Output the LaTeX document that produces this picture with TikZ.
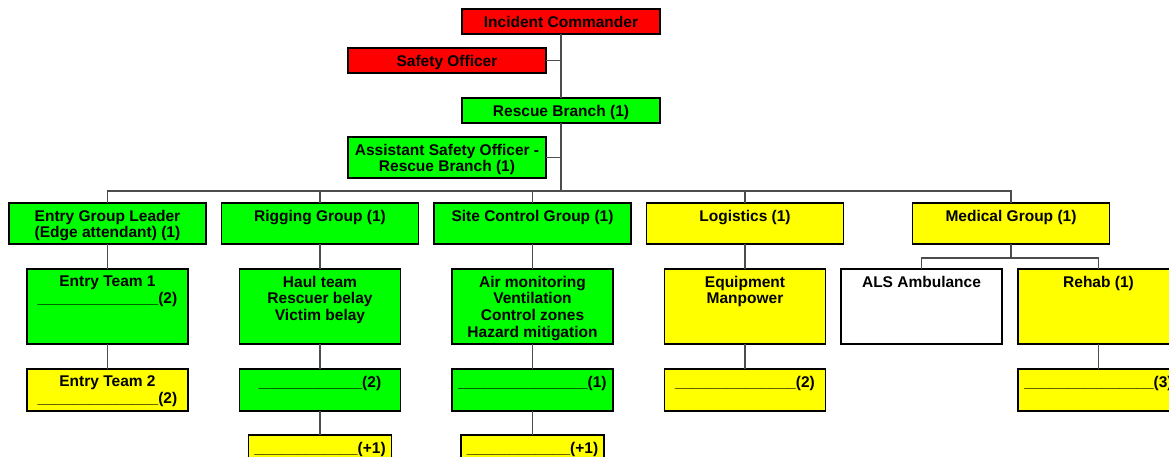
\documentclass[tikz,border=0pt]{standalone}
\usepackage{fontspec}
\setmainfont{Liberation Sans}
\usepackage{tikz}
\usetikzlibrary{positioning}
\definecolor{icsred}{RGB}{255,0,0}
\definecolor{icsgreen}{RGB}{0,255,0}
\definecolor{icsyellow}{RGB}{255,255,0}
\newcommand{\blanks}[1]{\foreach \k in {1,...,#1}{\_}}

\begin{document}
\begin{tikzpicture}[x=1pt,y=-1pt,
  box/.style={draw=black, line width=1.2pt, inner sep=0pt, outer sep=0pt},
  head/.style={box, minimum width=198pt, minimum height=25pt},
  grp/.style={box, minimum width=197pt, minimum height=41pt},
  task/.style={box, minimum width=161pt, minimum height=75pt},
  crew/.style={box, minimum width=161pt, minimum height=42pt},
  spare/.style={box, minimum width=143pt, minimum height=42pt},
  lbl/.style={anchor=north, align=center, inner sep=0pt, outer sep=0pt, yshift=-7pt,
    font=\fontsize{15.5}{16.7}\selectfont\bfseries},
  link/.style={draw=black!70, line width=1.3pt}]
  \clip (0,0) rectangle (1169,457);

  \node[head, fill=icsred, label={[lbl]north:{Incident Commander}}] (ic) at (561,21.5) {};
  \node[head, fill=icsred, label={[lbl]north:{Safety Officer}}] (so) at (447,60.5) {};
  \node[head, fill=icsgreen, label={[lbl]north:{Rescue Branch (1)}}] (rb) at (561,110.5) {};
  \node[head, minimum height=41pt, fill=icsgreen,
    label={[lbl]north:{Assistant Safety Officer -\\Rescue Branch (1)}}] (aso) at (447,157.5) {};
  \coordinate (bus) at (561,191);

  \node[grp, fill=icsgreen, label={[lbl]north:{Entry Group Leader\\(Edge attendant) (1)}}] (egl) at (107.5,223.5) {};
  \node[grp, fill=icsgreen, label={[lbl]north:{Rigging Group (1)}}] (rig) at (320,223.5) {};
  \node[grp, fill=icsgreen, label={[lbl]north:{Site Control Group (1)}}] (scg) at (532.5,223.5) {};
  \node[grp, fill=icsyellow, label={[lbl]north:{Logistics (1)}}] (log) at (745,223.5) {};
  \node[grp, fill=icsyellow, label={[lbl]north:{Medical Group (1)}}] (med) at (1011,223.5) {};
  \coordinate (mbus) at (1011,258);

  \node[task, fill=icsgreen, label={[lbl]north:{Entry Team 1\\\blanks{14}(2)}}] (et1) at (107.5,306.5) {};
  \node[task, fill=icsgreen, label={[lbl]north:{Haul team\\Rescuer belay\\Victim belay}}] (haul) at (320,306.5) {};
  \node[task, fill=icsgreen,
    label={[lbl]north:{Air monitoring\\Ventilation\\Control zones\\Hazard mitigation}}] (air) at (532.5,306.5) {};
  \node[task, fill=icsyellow, label={[lbl]north:{Equipment\\Manpower}}] (equip) at (745,306.5) {};
  \node[task, fill=white, label={[lbl]north:{ALS Ambulance}}] (als) at (921.5,306.5) {};
  \node[task, fill=icsyellow, label={[lbl]north:{Rehab (1)}}] (rehab) at (1098.5,306.5) {};

  \node[crew, fill=icsyellow, label={[lbl]north:{Entry Team 2\\\blanks{14}(2)}}] (et2) at (107.5,390) {};
  \node[crew, fill=icsgreen, label={[lbl]north:{\blanks{12}(2)}}] (rig3) at (320,390) {};
  \node[crew, fill=icsgreen, label={[lbl]north:{\blanks{15}(1)}}] (scg3) at (532.5,390) {};
  \node[crew, fill=icsyellow, label={[lbl]north:{\blanks{14}(2)}}] (log3) at (745,390) {};
  \node[crew, fill=icsyellow, label={[lbl]north:{\blanks{15}(3)}}] (reh3) at (1098.5,390) {};

  \node[spare, fill=icsyellow, label={[lbl]north:{\blanks{12}(+1)}}] (rig4) at (320,456) {};
  \node[spare, fill=icsyellow, label={[lbl]north:{\blanks{12}(+1)}}] (scg4) at (532.5,456) {};

  \draw[link] (ic.south) -- (rb.north);
  \draw[link] (so.east) -- (so.east -| ic.south);
  \draw[link] (aso.east) -- (aso.east -| rb.south);
  \draw[link] (rb.south) -- (bus);
  \draw[link] (egl.north) |- (bus) -| (med.north);
  \foreach \n in {rig,scg,log}
    \draw[link] (\n.north) -- (\n.north |- bus);
  \draw[link] (med.south) -- (mbus);
  \draw[link] (als.north) |- (mbus) -| (rehab.north);
  \foreach \a/\b in {egl/et1, et1/et2, rig/haul, haul/rig3, rig3/rig4,
    scg/air, air/scg3, scg3/scg4, log/equip, equip/log3, rehab/reh3}
    \draw[link] (\a) -- (\b);
\end{tikzpicture}
\end{document}
